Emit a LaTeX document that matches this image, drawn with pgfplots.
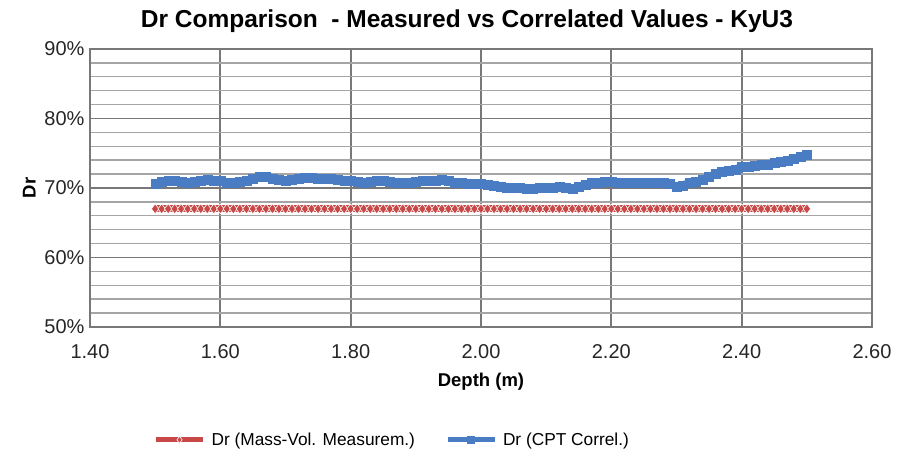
\documentclass[border=0pt]{standalone}
\usepackage{pgfplots}
\pgfplotsset{compat=1.18}
\usepackage{pgfplotstable}
\usepackage{fontspec}
\setmainfont{Liberation Sans}
\definecolor{serblue}{RGB}{74,124,196}
\definecolor{serred}{RGB}{200,72,72}
\definecolor{gridmaj}{RGB}{120,120,120}
\definecolor{gridmin}{RGB}{165,165,165}

\pgfplotstableread{
x y
1.50 70.6
1.51 70.9
1.52 71.0
1.53 71.0
1.54 70.9
1.55 70.8
1.56 70.9
1.57 71.1
1.58 71.2
1.59 71.1
1.60 71.0
1.61 70.8
1.62 70.7
1.63 70.9
1.64 71.0
1.65 71.3
1.66 71.6
1.67 71.7
1.68 71.4
1.69 71.2
1.70 71.1
1.71 71.2
1.72 71.3
1.73 71.5
1.74 71.5
1.75 71.4
1.76 71.3
1.77 71.3
1.78 71.2
1.79 71.1
1.80 71.0
1.81 70.9
1.82 70.8
1.83 70.9
1.84 71.0
1.85 71.0
1.86 70.9
1.87 70.8
1.88 70.8
1.89 70.8
1.90 70.9
1.91 71.0
1.92 71.0
1.93 71.1
1.94 71.2
1.95 71.0
1.96 70.8
1.97 70.7
1.98 70.6
1.99 70.6
2.00 70.6
2.01 70.5
2.02 70.4
2.03 70.2
2.04 70.1
2.05 70.0
2.06 70.0
2.07 69.9
2.08 69.9
2.09 70.0
2.10 70.0
2.11 70.1
2.12 70.2
2.13 70.1
2.14 69.9
2.15 70.2
2.16 70.5
2.17 70.7
2.18 70.8
2.19 70.9
2.20 70.9
2.21 70.8
2.22 70.8
2.23 70.7
2.24 70.7
2.25 70.7
2.26 70.7
2.27 70.7
2.28 70.7
2.29 70.6
2.30 70.2
2.31 70.4
2.32 70.7
2.33 70.9
2.34 71.2
2.35 71.6
2.36 72.0
2.37 72.3
2.38 72.5
2.39 72.7
2.40 73.0
2.41 73.1
2.42 73.2
2.43 73.3
2.44 73.4
2.45 73.6
2.46 73.8
2.47 74.0
2.48 74.2
2.49 74.5
2.50 74.8
}\cptdata

\pgfplotstableread{
x y
1.50 67
1.51 67
1.52 67
1.53 67
1.54 67
1.55 67
1.56 67
1.57 67
1.58 67
1.59 67
1.60 67
1.61 67
1.62 67
1.63 67
1.64 67
1.65 67
1.66 67
1.67 67
1.68 67
1.69 67
1.70 67
1.71 67
1.72 67
1.73 67
1.74 67
1.75 67
1.76 67
1.77 67
1.78 67
1.79 67
1.80 67
1.81 67
1.82 67
1.83 67
1.84 67
1.85 67
1.86 67
1.87 67
1.88 67
1.89 67
1.90 67
1.91 67
1.92 67
1.93 67
1.94 67
1.95 67
1.96 67
1.97 67
1.98 67
1.99 67
2.00 67
2.01 67
2.02 67
2.03 67
2.04 67
2.05 67
2.06 67
2.07 67
2.08 67
2.09 67
2.10 67
2.11 67
2.12 67
2.13 67
2.14 67
2.15 67
2.16 67
2.17 67
2.18 67
2.19 67
2.20 67
2.21 67
2.22 67
2.23 67
2.24 67
2.25 67
2.26 67
2.27 67
2.28 67
2.29 67
2.30 67
2.31 67
2.32 67
2.33 67
2.34 67
2.35 67
2.36 67
2.37 67
2.38 67
2.39 67
2.40 67
2.41 67
2.42 67
2.43 67
2.44 67
2.45 67
2.46 67
2.47 67
2.48 67
2.49 67
2.50 67
}\massdata

\begin{document}
\begin{tikzpicture}
\begin{axis}[
  scale only axis,
  width=782pt, height=278pt,
  xmin=1.4, xmax=2.6, ymin=50, ymax=90,
  xtick={1.4,1.6,1.8,2.0,2.2,2.4,2.6},
  xticklabels={1.40,1.60,1.80,2.00,2.20,2.40,2.60},
  ytick={50,60,70,80,90},
  yticklabels={50\%,60\%,70\%,80\%,90\%},
  minor y tick num=4,
  grid=both,
  major grid style={gridmaj, line width=1.8pt},
  minor grid style={gridmin, line width=1.4pt},
  axis line style={gridmaj, line width=1.8pt},
  major tick length=0pt, minor tick length=0pt,
  tick label style={font=\fontsize{20}{22}\selectfont, text=black!85},
  xticklabel style={yshift=-14pt},
  yticklabel style={xshift=-2pt},
  xlabel={\bfseries Depth (m)},
  xlabel style={font=\fontsize{18.5}{20}\selectfont, yshift=-8pt},
  ylabel={\bfseries Dr},
  ylabel style={font=\fontsize{18.5}{20}\selectfont, yshift=2pt},
  title={\bfseries Dr Comparison\ \ - Measured vs Correlated Values - KyU3},
  title style={font=\fontsize{24.5}{26}\selectfont, at={(0.5,1)}, anchor=south, yshift=7pt, xshift=-14pt},
  legend columns=2,
  legend style={at={(0.081,-0.406)}, anchor=west, draw=none, fill=none,
    font=\fontsize{17.3}{19}\selectfont, inner sep=0pt,
    /tikz/every odd column/.append style={column sep=4pt},
    /tikz/every even column/.append style={column sep=28pt}},
  legend image code/.code={
    \draw[#1, line width=5pt, mark=none] (0pt,0pt) -- (47pt,0pt);
    \draw[#1, only marks, mark size=3.5pt] plot coordinates {(23.5pt,0pt)};
  },
]
\addplot[serred, line width=7pt, mark=diamond*, mark size=5pt,
  mark options={fill=serred, draw=white, line width=0.6pt}] table[x=x,y=y] {\massdata};
\addlegendentry{Dr (Mass-Vol. Measurem.)}
\addplot[serblue, line width=8pt, mark=square*, mark size=4.5pt,
  mark options={fill=serblue, draw=serblue, line width=0.3pt}] table[x=x,y=y] {\cptdata};
\addlegendentry{Dr (CPT Correl.)}
\end{axis}
\path[use as bounding box] (-90pt,-127pt) rectangle (807pt,327pt);
\end{tikzpicture}
\end{document}
